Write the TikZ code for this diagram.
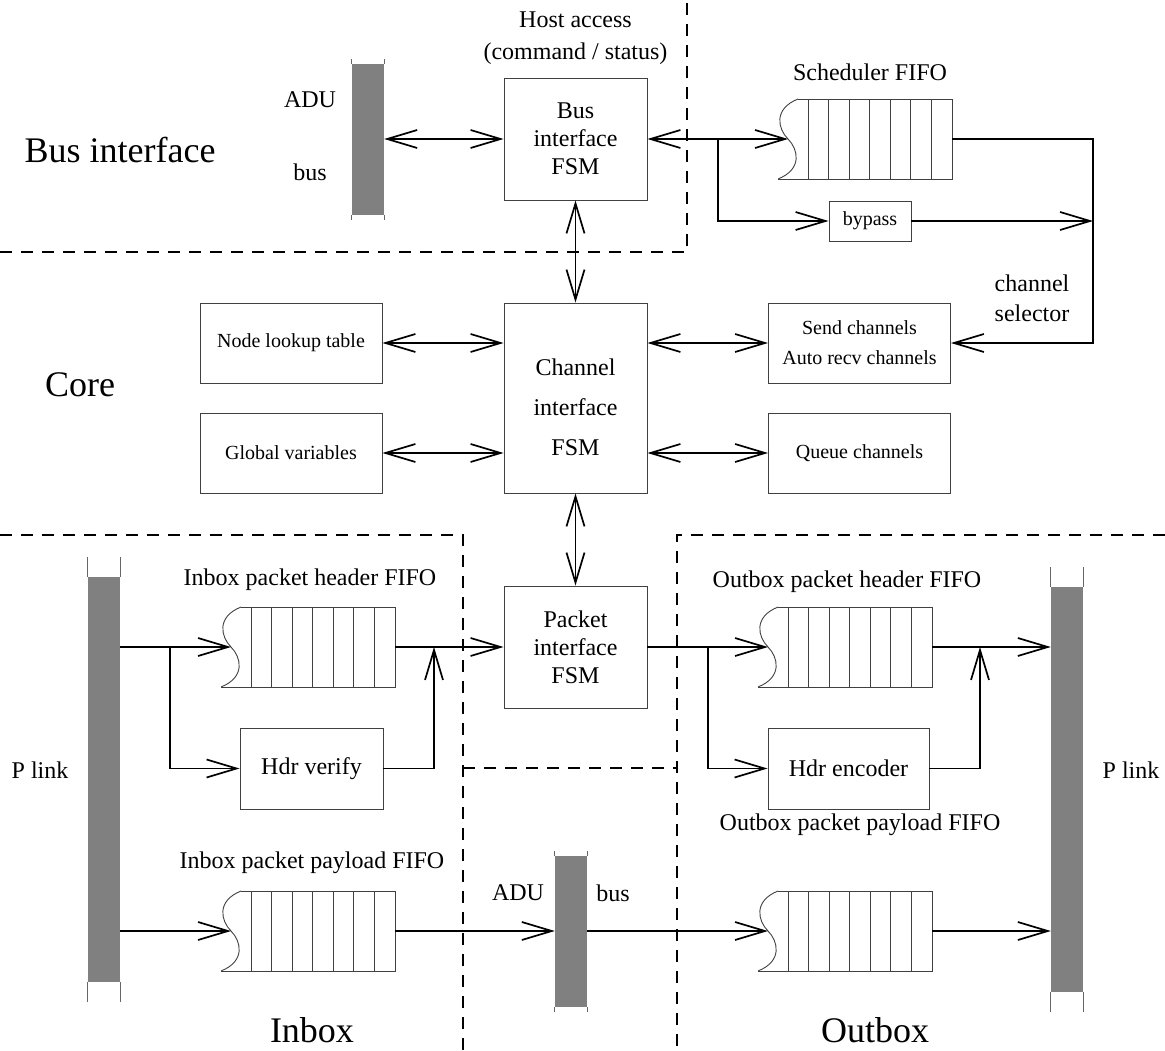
\documentclass[tikz,border=0pt]{standalone}
\usepackage{fontspec}
\setmainfont{Liberation Serif}
\usetikzlibrary{arrows.meta,calc}

% fifo with a torn left end: name, left edge of the cells, middle y
\newcommand{\fifo}[3]{%
  \draw[cell] (#2-10,#3-40) -- (#2+144,#3-40) -- (#2+144,#3+40) -- (#2-30,#3+40);
  \draw[cell] (#2-10,#3-40) .. controls (#2-35,#3-30) and (#2-30,#3-10) .. (#2-20,#3)
    .. controls (#2-10,#3+10) and (#2-5,#3+30) .. (#2-30,#3+40);
  \foreach \k in {0,...,6} \draw[cell] (#2+\k*20.57,#3-40) -- (#2+\k*20.57,#3+40);
  \coordinate (#1-in) at (#2-20,#3);
  \coordinate (#1-out) at (#2+144,#3);
}
% ends of a bus bar
\newcommand{\barends}[2]{%
  \draw[tick] (#1.north west) -- ++(0,-#2) (#1.north east) -- ++(0,-#2)
    (#1.south west) -- ++(0,#2) (#1.south east) -- ++(0,#2);
}

\tikzset{
  block/.style={draw=black!75, line width=0.9pt, inner sep=0pt, align=center,
    font=\fontsize{24}{28}\selectfont},
  smallblock/.style={block, font=\fontsize{20}{30}\selectfont,
    minimum width=182pt, minimum height=80pt},
  cell/.style={draw=black!75, line width=0.9pt},
  tick/.style={draw=black!60, line width=0.8pt},
  busbar/.style={fill=black!50, minimum width=32pt, inner sep=0pt},
  link/.style={line width=1.7pt},
  region/.style={line width=1.6pt, dash pattern=on 12pt off 9pt},
  lbl/.style={inner sep=0pt, align=center, font=\fontsize{24}{36}\selectfont},
  title/.style={inner sep=0pt, font=\fontsize{36}{40}\selectfont},
}

\begin{document}
\begin{tikzpicture}[x=1pt, y=-1pt, >={Straight Barb[length=30pt,width=18pt]}]
\useasboundingbox (0,0) rectangle (1165,1051);

% region borders
\draw[region] (0,252) -- (687,252) -- (687,0);
\draw[region] (0,535) -- (463,535) -- (463,1051);
\draw[region] (463,768) -- (677,768);
\draw[region] (1165,535) -- (677,535) -- (677,1051);

\node[title] (tbus) at (120,150) {Bus interface};
\node[title] (tcore) at (80,385) {Core};
\node[title] (tinbox) at (312,1030) {Inbox};
\node[title] (toutbox) at (875,1030) {Outbox};

% bus interface
\node[busbar, minimum height=151pt] (adutop) at (368,139.5) {};
\barends{adutop}{5}
\node[lbl] (adutoplbl) at (310,100) {ADU};
\node[lbl] (adutopbus) at (310,172) {bus};
\node[block, minimum width=143pt, minimum height=122pt] (busfsm) at (575.5,139) {Bus\\interface\\FSM};
\node[lbl, font=\fontsize{24}{32}\selectfont] (host) at (575.5,38) {Host access\\(command / status)};
\node[lbl] (schedlbl) at (870,72) {Scheduler FIFO};
\fifo{sched}{808}{139}
\node[block, minimum width=82pt, minimum height=40pt, font=\fontsize{20}{24}\selectfont] (bypass) at (870,221) {bypass};
\coordinate (split) at (718,139);
\coordinate (sel) at (1093,343);
\node[lbl, font=\fontsize{24}{30}\selectfont] (sellbl) at (1032,298) {channel\\selector};

% core
\node[smallblock] (nlt) at (291,343) {Node lookup table};
\node[smallblock] (globals) at (291,453) {Global variables};
\node[block, minimum width=143pt, minimum height=190pt, font=\fontsize{24}{40}\selectfont] (chan) at (575.5,398) {\rule{0pt}{36pt}Channel\\interface\\FSM};
\node[smallblock] (send) at (859.5,343) {Send channels\\Auto recv channels};
\node[smallblock] (queue) at (859.5,453) {Queue channels};

% inbox
\node[busbar, minimum height=405pt] (plinkin) at (104,779.5) {};
\barends{plinkin}{20}
\node[lbl] (plinkinlbl) at (40,770) {P link};
\node[lbl] (inhdrlbl) at (310,580) {Inbox packet header FIFO};
\fifo{inhdr}{251}{647}
\node[block, minimum width=143pt, minimum height=81pt] (verify) at (311.5,768.5) {Hdr verify};
\coordinate (insplit) at (170,647);
\coordinate (injoin) at (434,647);
\node[lbl] (inpaylbl) at (312,863) {Inbox packet payload FIFO};
\fifo{inpay}{251}{931}

% packet interface and payload bus
\node[block, minimum width=143pt, minimum height=122pt] (packet) at (575.5,647) {Packet\\interface\\FSM};
\node[busbar, minimum height=151pt] (adubot) at (571,931.5) {};
\barends{adubot}{5}
\node[lbl] (adubotlbl) at (518,893) {ADU};
\node[lbl] (adubotbus) at (613,893) {bus};

% outbox
\node[lbl] (outhdrlbl) at (847,582) {Outbox packet header FIFO};
\fifo{outhdr}{788}{647}
\node[block, minimum width=161pt, minimum height=81pt] (encoder) at (848.5,768.5) {Hdr encoder};
\coordinate (outsplit) at (708,647);
\coordinate (outjoin) at (980,647);
\node[lbl] (outpaylbl) at (860,825) {Outbox packet payload FIFO};
\fifo{outpay}{788}{931}
\node[busbar, minimum height=405pt] (plinkout) at (1067,789.5) {};
\barends{plinkout}{20}
\node[lbl] (plinkoutlbl) at (1131,770) {P link};

% connections
\draw[link, <->] (adutop.east |- busfsm.west) -- (busfsm.west);
\draw[link, <->] (busfsm.east) -- (sched-in);
\draw[link, ->] (split) |- (bypass.west);
\draw[link, ->] (sched-out) -| (sel) -- (send.east);
\draw[link, ->] (bypass.east) -- (bypass.east -| sel);
\draw[link, <->] (busfsm.south) -- (chan.north);
\draw[link, <->] (nlt.east) -- (nlt.east -| chan.west);
\draw[link, <->] (globals.east) -- (globals.east -| chan.west);
\draw[link, <->] (send.west -| chan.east) -- (send.west);
\draw[link, <->] (queue.west -| chan.east) -- (queue.west);
\draw[link, <->] (chan.south) -- (packet.north);

\draw[link, ->] (plinkin.east |- inhdr-in) -- (inhdr-in);
\draw[link, ->] (insplit) |- (verify.west);
\draw[link, ->] (inhdr-out) -- (packet.west);
\draw[link, ->] (verify.east) -| (injoin);
\draw[link, ->] (plinkin.east |- inpay-in) -- (inpay-in);
\draw[link, ->] (inpay-out) -- (adubot.west |- inpay-out);
\draw[link, ->] (adubot.east |- outpay-in) -- (outpay-in);

\draw[link, ->] (packet.east) -- (outhdr-in);
\draw[link, ->] (outsplit) |- (encoder.west);
\draw[link, ->] (encoder.east) -| (outjoin);
\draw[link, ->] (outhdr-out) -- (plinkout.west |- outhdr-out);
\draw[link, ->] (outpay-out) -- (plinkout.west |- outpay-out);
\end{tikzpicture}
\end{document}
